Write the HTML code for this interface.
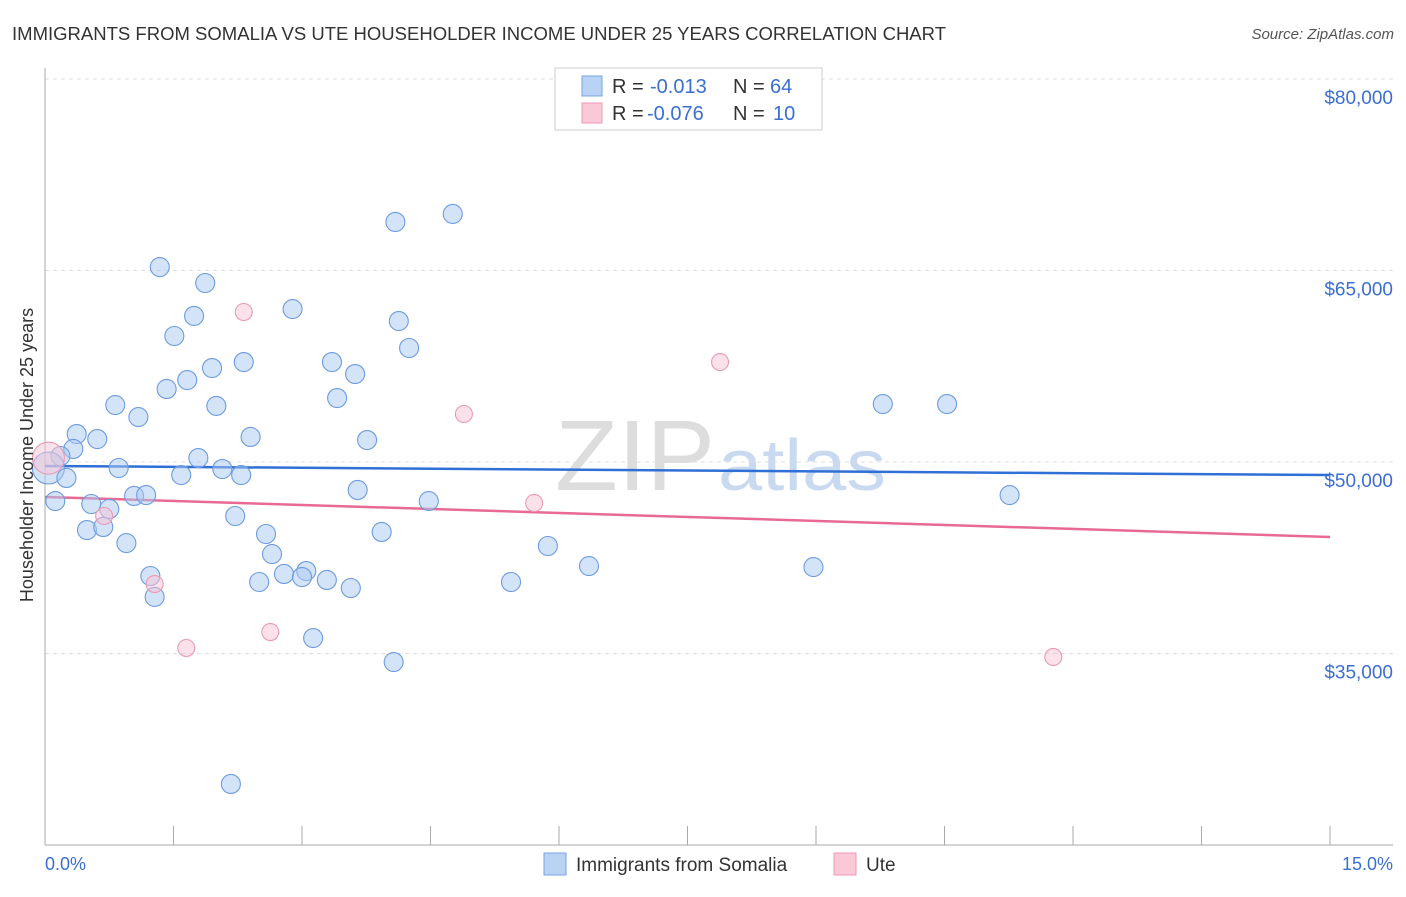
<!DOCTYPE html>
<html><head><meta charset="utf-8"><style>
body{margin:0;background:#fff;font-family:"Liberation Sans",sans-serif;}
svg text{font-family:"Liberation Sans",sans-serif;}
</style></head><body>
<svg width="1406" height="892" id="chart">
<text x="12" y="40" font-size="18" fill="#333" textLength="934" lengthAdjust="spacingAndGlyphs">IMMIGRANTS FROM SOMALIA VS UTE HOUSEHOLDER INCOME UNDER 25 YEARS CORRELATION CHART</text>
<text x="1394" y="39" font-size="15" fill="#555" font-style="italic" text-anchor="end">Source: ZipAtlas.com</text>
<text x="555" y="490" font-size="100" fill="#ddd" font-family="Liberation Serif" textLength="160" lengthAdjust="spacingAndGlyphs">ZIP</text>
<text x="718" y="490" font-size="72" fill="#c9daf0" textLength="168" lengthAdjust="spacingAndGlyphs">atlas</text>
<g id="grid"></g><g id="axes"></g><g id="trend"></g><g id="pts"></g>
<text transform="translate(33,455) rotate(-90)" font-size="18" fill="#333" text-anchor="middle">Householder Income Under 25 years</text>
<text x="45" y="870" font-size="18" fill="#3a6fd0">0.0%</text>
<text x="1393" y="870" font-size="18" fill="#3a6fd0" text-anchor="end">15.0%</text>
<g>
<rect x="555" y="68" width="267" height="62" fill="#fff" stroke="#ccc"/>
<rect x="582" y="76" width="20" height="20" fill="#b9d3f5" stroke="#7aa3e0"/>
<rect x="582" y="103" width="20" height="20" fill="#fbc8d7" stroke="#eb9ab3"/>
<text x="612" y="93" font-size="20" fill="#333">R =</text>
<text x="650" y="93" font-size="20" fill="#3a6fd0">-0.013</text>
<text x="733" y="93" font-size="20" fill="#333">N =</text>
<text x="770" y="93" font-size="20" fill="#3a6fd0">64</text>
<text x="612" y="120" font-size="20" fill="#333">R =</text>
<text x="647" y="120" font-size="20" fill="#3a6fd0">-0.076</text>
<text x="733" y="120" font-size="20" fill="#333">N =</text>
<text x="773" y="120" font-size="20" fill="#3a6fd0">10</text>
</g>
<g>
<rect x="544" y="853" width="22" height="22" fill="#b9d3f5" stroke="#7aa3e0"/>
<text x="576" y="871" font-size="19" fill="#333">Immigrants from Somalia</text>
<rect x="834" y="853" width="22" height="22" fill="#fbc8d7" stroke="#eb9ab3"/>
<text x="866" y="871" font-size="19" fill="#333">Ute</text>
</g>
</svg>
<script>
const yTicks=[35000,50000,65000,80000];
const yTickLabels=["$35,000","$50,000","$65,000","$80,000"];
const somaliaX=[1.34,1.87,1.74,1.51,2.89,4.09,4.76,4.13,4.25,2.32,3.35,1.95,3.62,1.66,1.42,3.41,0.82,2.00,1.09,9.78,10.53,0.37,0.61,2.40,3.76,0.33,0.18,1.79,0.86,2.07,0.04,0.25,1.59,2.29,0.12,1.04,1.18,3.65,4.48,11.26,0.54,0.75,2.22,0.49,0.68,3.93,2.58,0.95,5.87,2.65,6.35,8.97,1.23,2.79,3.05,3.00,3.29,2.50,5.44,3.57,1.28,3.13,4.07,2.17];
const somaliaY=[65270,64020,61440,59870,61980,68800,69430,61040,58930,57830,57830,57360,56890,56420,55720,55010,54460,54390,53520,54540,54540,52190,51800,51960,51720,51020,50470,50310,49530,49450,49530,48750,48980,48980,46940,47340,47410,47810,46940,47410,46710,46320,45770,44670,44910,44520,44360,43650,43420,42790,41850,41770,41070,41230,41460,40990,40760,40600,40600,40130,39430,36210,34330,24780];
const uteX=[2.32,7.88,4.89,5.71,0.69,1.28,1.65,2.63,11.77,0.04];
const uteY=[61750,57830,53760,46790,45770,40440,35430,36680,34730,50300];
const somaliaTrend=[49690,48980];
const uteTrend=[47260,44130];
const NS="http://www.w3.org/2000/svg";
const xs=v=>45+v/15*1285;
const ys=v=>79+(80000-v)/15000*191.5;
function mk(p,t,a){const e=document.createElementNS(NS,t);for(const k in a)e.setAttribute(k,a[k]);document.getElementById(p).appendChild(e);return e;}
yTicks.forEach((t,i)=>{
 const l=mk('grid','line',{x1:45,x2:1393,y1:ys(t),y2:ys(t),stroke:'#ddd','stroke-dasharray':'4,4'});
 
 
 const tx=mk('grid','text',{x:1393,y:ys(t)+25,'font-size':19,fill:'#3a6fd0','text-anchor':'end'});
 tx.textContent=yTickLabels[i];
 
 
});
const ax=mk('axes','line',{x1:45,x2:45,y1:68,y2:845,stroke:'#aaa'});


const bx=mk('axes','line',{x1:45,x2:1393,y1:845,y2:845,stroke:'#aaa'});


for(let i=0;i<=10;i++){
 const t=mk('axes','line',{x1:xs(i*1.5),x2:xs(i*1.5),y1:826,y2:845,stroke:'#aaa'});
 
 
}
const t1=mk('trend','line',{x1:xs(0),x2:xs(15),y1:ys(somaliaTrend[0]),y2:ys(somaliaTrend[1]),stroke:'#2f6fd6','stroke-width':2.5});


const t2=mk('trend','line',{x1:xs(0),x2:xs(15),y1:ys(uteTrend[0]),y2:ys(uteTrend[1]),stroke:'#e86a94','stroke-width':2.5});


somaliaX.forEach((x,i)=>{
 const r=(i===30)?16:9.5;
 const c=mk('pts','circle',{cx:xs(x),cy:ys(somaliaY[i]),r:r,fill:'rgba(170,202,242,0.5)',stroke:'#6c9be0','stroke-width':1.1});
 
 
});
uteX.forEach((x,i)=>{
 const r=i===9?16:8.5;
 const c=mk('pts','circle',{cx:xs(x),cy:ys(uteY[i]),r:r,fill:'rgba(248,196,212,0.5)',stroke:'#eb9ab3','stroke-width':1.1});
 
 
});
</script>
</body></html>
